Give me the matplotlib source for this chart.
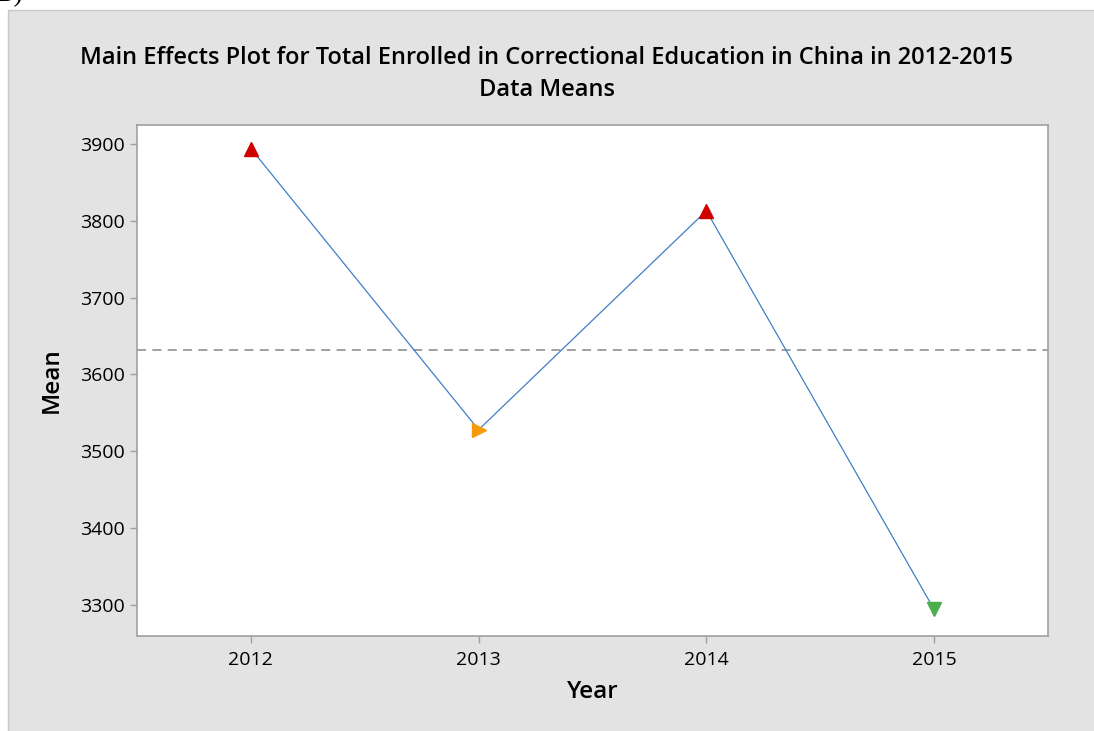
import matplotlib.pyplot as plt
import numpy as np

years = ['2012', '2013', '2014', '2015']
means = [3894, 3528, 3813, 3294]
markers = ['^', '>', '^', 'v']
mcolors = ['#d00000', '#f59a0c', '#d00000', '#4aae4e']
yticks = [3300, 3400, 3500, 3600, 3700, 3800, 3900]

plt.rcParams['font.family'] = ['Open Sans', 'DejaVu Sans']

fig = plt.figure(figsize=(10.94, 7.31), dpi=100)
fig.patch.set_facecolor('white')
# grey Minitab panel, slightly offset from the top-left corner
fig.patches.append(plt.Rectangle((8/1094, -0.01), 1, 1.01 - 10/731, transform=fig.transFigure,
                                 facecolor='#e3e3e3', edgecolor='#c8c8c8', lw=1, zorder=-5))
fig.text(-0.004, 1.008, 'B)', fontsize=20, family='Liberation Serif', va='center', ha='left')

ax = fig.add_axes([137/1094, 1 - 636/731, (1048-137)/1094, (636-125)/731])
ax.set_facecolor('white')
x = np.arange(len(years))
ax.plot(x, means, color='#3f7fc6', lw=0.9, zorder=2)
for xi, yi, m, c in zip(x, means, markers, mcolors):
    ax.plot(xi, yi, marker=m, color=c, markersize=10, ls='none', zorder=3)
ax.axhline(np.mean(means), color='#999999', ls=(0, (5, 3.5)), lw=1.3, zorder=1)

ax.set_xlim(-0.5, 3.5)
ax.set_ylim(3259.5, 3924.7)
ax.set_xticks(x)
ax.set_xticklabels(years)
ax.set_yticks(yticks)
for s in ax.spines.values():
    s.set_color('#a0a0a0')
    s.set_linewidth(1.2)
ax.tick_params(colors='#a0a0a0', labelcolor='black', labelsize=14, length=5, width=1)
ax.tick_params(axis='x', pad=6)
for lab in ax.get_xticklabels() + ax.get_yticklabels():
    lab.set_fontweight('medium')

ax.set_xlabel('Year', fontsize=17.5, fontweight='semibold', labelpad=8)
ax.set_ylabel('Mean', fontsize=17.5, fontweight='semibold', labelpad=12)
fig.text(0.5, 1 - 58/731, 'Main Effects Plot for Total Enrolled in Correctional Education in China in 2012-2015',
         ha='center', va='center', fontsize=17, fontweight='semibold')
fig.text(0.5, 1 - 90/731, 'Data Means', ha='center', va='center', fontsize=17, fontweight='semibold')

fig.savefig('out.png', dpi=100)
